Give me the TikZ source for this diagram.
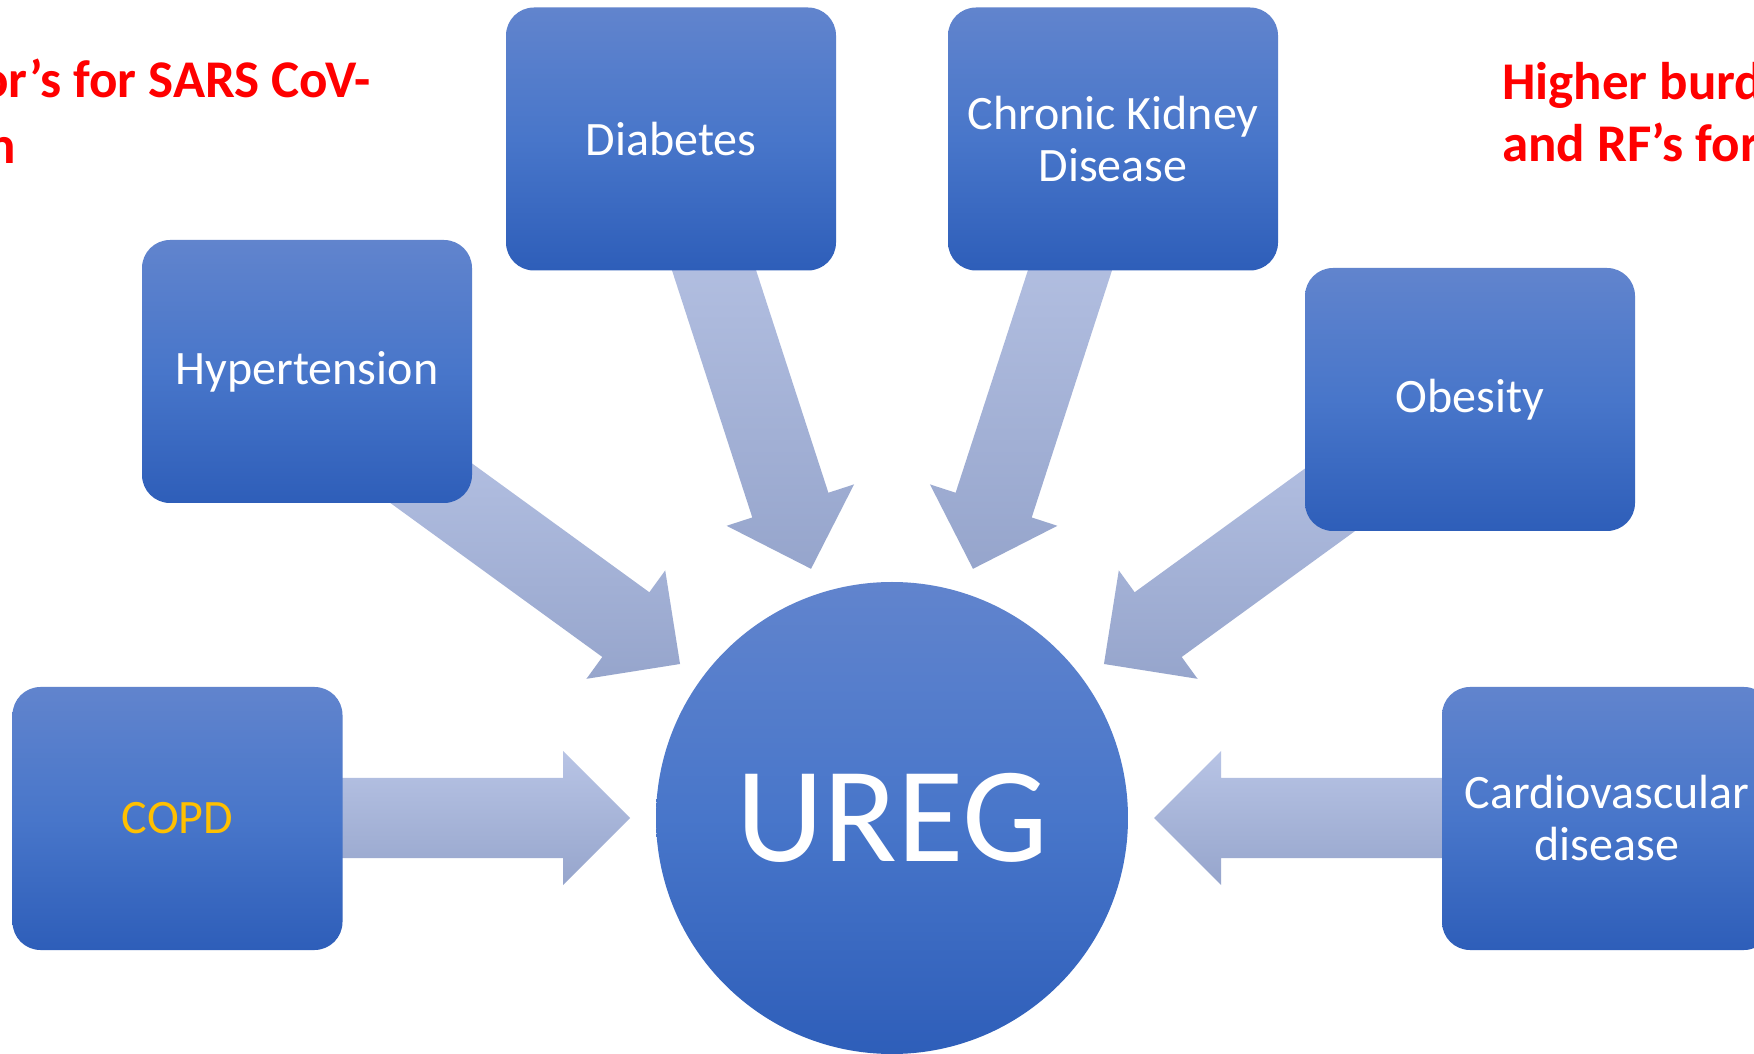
\documentclass[tikz,border=0pt]{standalone}
\usepackage{fontspec}
\setmainfont{Carlito}
\usetikzlibrary{calc}
\definecolor{boxtop}{RGB}{97,132,205}
\definecolor{boxmid}{RGB}{72,118,202}
\definecolor{boxbot}{RGB}{46,94,185}
\definecolor{arrtop}{RGB}{184,196,229}
\definecolor{arrbot}{RGB}{150,165,204}
\definecolor{rfred}{RGB}{255,0,0}
\definecolor{copdtxt}{RGB}{255,192,0}
\tikzset{
  riskbox/.style={rectangle, rounded corners=28pt, minimum width=330pt, minimum height=263pt,
    top color=boxtop, bottom color=boxbot, middle color=boxmid, draw=none,
    text=white, font=\fontsize{48}{52}\selectfont, align=center, inner sep=0pt},
  hub/.style={circle, minimum size=472pt, inner sep=0pt,
    top color=boxtop, bottom color=boxbot, middle color=boxmid, draw=none,
    text=white, font=\fontsize{136}{140}\selectfont},
  blockarrow/.style={top color=arrtop, bottom color=arrbot, draw=none},
  redlabel/.style={text=rfred, font=\bfseries\fontsize{53}{64}\selectfont, inner sep=0pt}
}
\begin{document}
\begin{tikzpicture}[x=1pt,y=1pt]
\useasboundingbox (0,0) rectangle (1754,1053);
\clip (0,0) rectangle (1754,1053);
\fill[white] (0,0) rectangle (1754,1053);
\coordinate (c) at (892,235);
% block arrows pointing to the hub
\foreach \a in {180,144,108,72,36,0}{
  \coordinate (tip) at ($(c)+(\a:262)$);
  \coordinate (hb) at ($(c)+(\a:329)$);
  \coordinate (tl) at ($(c)+(\a:650)$);
  \shade[blockarrow] (tip) -- ($(hb)+(\a+90:67)$) -- ($(hb)+(\a+90:40)$)
     -- ($(tl)+(\a+90:40)$) -- ($(tl)+(\a-90:40)$) -- ($(hb)+(\a-90:40)$)
     -- ($(hb)+(\a-90:67)$) -- cycle;
}
% satellite boxes
\node[riskbox] (copd) at (177.5,234.5) {\textcolor{copdtxt}{COPD}};
\node[riskbox] (hyp) at (307,681.5) {Hypertension};
\node[riskbox] (diab) at (671,914) {Diabetes};
\node[riskbox] (ckd) at (1113,914) {Chronic Kidney\\Disease};
\node[riskbox] (obes) at (1470,653.5) {Obesity};
\node[riskbox] (cvd) at (1607,234.5) {Cardiovascular\\disease};
% hub
\node[hub] (ureg) at (c) {UREG};
% red headings (cut by the page edges)
\node[redlabel, anchor=base east] (l1) at (371,955) {or’s for SARS CoV-};
\node[redlabel, anchor=base east] (l2) at (16,889) {n};
\node[redlabel, anchor=base west] (r1) at (1502,953.5) {Higher burd};
\node[redlabel, anchor=base west] (r2) at (1502,891) {and RF’s for};
\end{tikzpicture}
\end{document}
